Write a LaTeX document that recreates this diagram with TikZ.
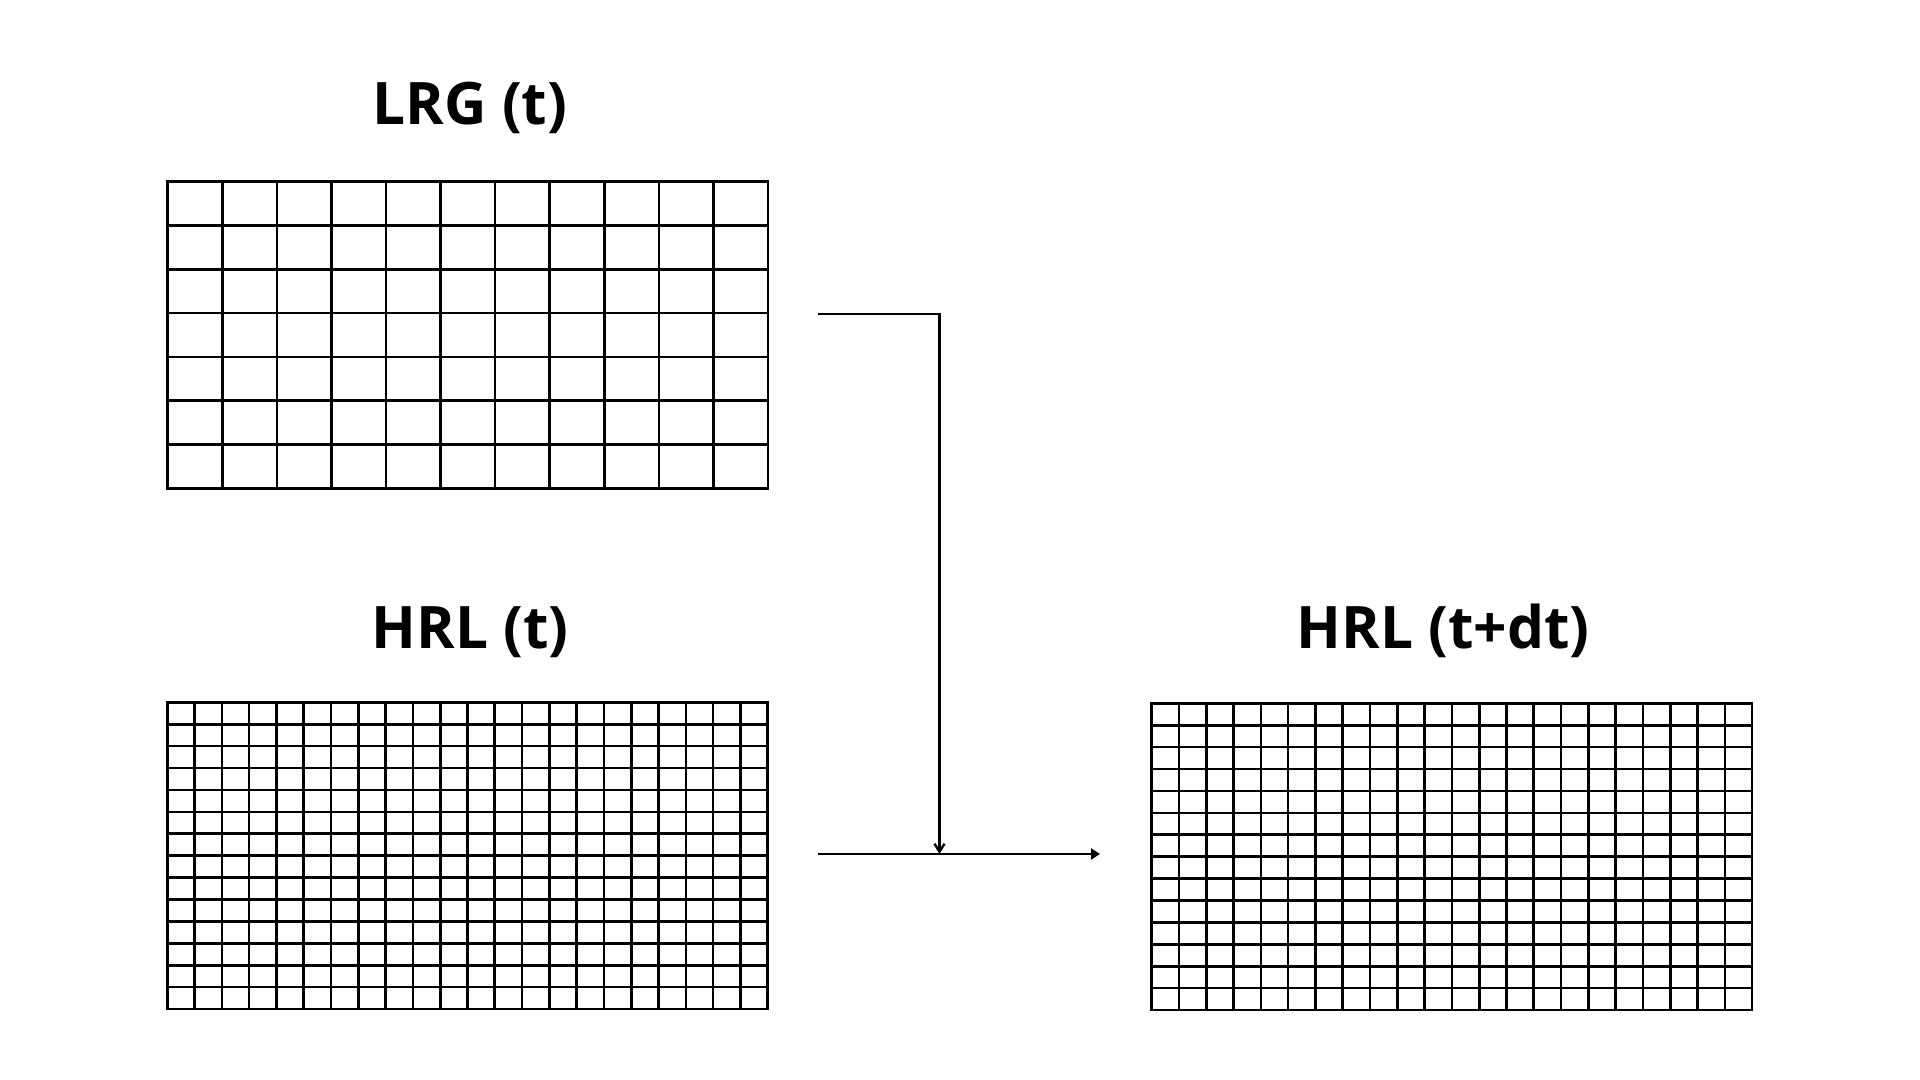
\documentclass[tikz,border=0pt]{standalone}
\usepackage{fontspec}
\setmainfont{Open Sans}
\usetikzlibrary{arrows.meta}
\begin{document}
\begin{tikzpicture}[x=0.5pt,y=-0.5pt,
  gridbox/.style={draw=black, line width=1.3pt, inner sep=0pt, outer sep=0pt, anchor=north west, minimum width=300.2pt},
  coarse/.style={gridbox, minimum height=153.3pt},
  fine/.style={gridbox, minimum height=153.4pt},
  gridline/.style={line width=1.3pt},
  title/.style={font=\bfseries\fontsize{29.3}{35}\selectfont, anchor=base, inner sep=0pt},
  link/.style={line width=1.2pt}]
\useasboundingbox (0,0) rectangle (1920,1080);

% titles
\node[title] (t1) at (470,125) {LRG (t)};
\node[title] (t2) at (470.3,648.3) {HRL (t)};
\node[title] (t3) at (1443,648.3) {HRL (t+dt)};

% LRG grid 11 x 7
\node[coarse] (lrg) at (167.7,181.7) {};
\foreach \i in {1,...,10}
  \draw[gridline] ([xshift=\i*27.29pt]lrg.north west) -- ([xshift=\i*27.29pt]lrg.south west);
\foreach \j in {1,...,6}
  \draw[gridline] ([yshift=-\j*21.9pt]lrg.north west) -- ([yshift=-\j*21.9pt]lrg.north east);

% HRL(t) grid 22 x 14
\node[fine] (hrl) at (167.3,702.3) {};
\foreach \i in {1,...,21}
  \draw[gridline] ([xshift=\i*13.645pt]hrl.north west) -- ([xshift=\i*13.645pt]hrl.south west);
\foreach \j in {1,...,13}
  \draw[gridline] ([yshift=-\j*10.957pt]hrl.north west) -- ([yshift=-\j*10.957pt]hrl.north east);

% HRL(t+dt) grid 22 x 14
\node[fine] (hrld) at (1151.7,703.3) {};
\foreach \i in {1,...,21}
  \draw[gridline] ([xshift=\i*13.645pt]hrld.north west) -- ([xshift=\i*13.645pt]hrld.south west);
\foreach \j in {1,...,13}
  \draw[gridline] ([yshift=-\j*10.957pt]hrld.north west) -- ([yshift=-\j*10.957pt]hrld.north east);

% connectors
\coordinate (s1) at (818,314);
\coordinate (s2) at (818,854);
\coordinate (j) at (939.5,854);
\coordinate (e) at (1100,854);
\draw[link,-{Straight Barb[length=4pt,width=5pt,line width=1.2pt]}] (s1) -| (j);
\draw[link,-{Triangle[length=4.5pt,width=5.5pt]}] (s2) -- (e);
\end{tikzpicture}
\end{document}
